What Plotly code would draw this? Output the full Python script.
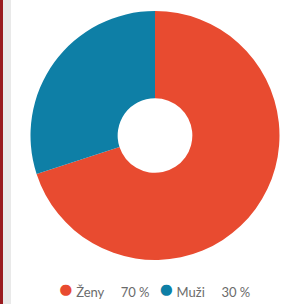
import plotly.graph_objects as go

categories = ["Ženy", "Muži"]
values = [70, 30]
colors = ["#E84B30", "#0E7FA6"]

W, H = 283, 304

fig = go.Figure()
fig.add_trace(go.Pie(
    labels=categories,
    values=values,
    marker=dict(colors=colors, line=dict(width=0)),
    hole=0.3,
    sort=False,
    direction="clockwise",
    rotation=0,
    textinfo="none",
    hoverinfo="none",
    showlegend=False,
    domain=dict(x=[30 / W, 280 / W], y=[1 - 260 / H, 1 - 11 / H]),
))

# legend as text built from the data
parts = []
for c, v, col in zip(categories, values, colors):
    parts.append(
        f'<span style="color:{col};font-size:23px">●</span>'
        f'<span style="color:#6b6b6b"> {c}\u00a0\u00a0\u00a0\u00a0 {v} %</span>'
    )
legend_text = "\u00a0\u00a0\u00a0".join(parts)

fig.add_annotation(
    text=legend_text,
    x=154.5 / W, y=1 - 288 / H,
    xref="paper", yref="paper",
    xanchor="center", yanchor="middle",
    showarrow=False,
    font=dict(family="Lato, 'Open Sans', sans-serif", size=13, color="#6b6b6b"),
)

# left border strips
fig.add_shape(type="rect", xref="paper", yref="paper", x0=0, x1=3 / W, y0=0, y1=1,
              fillcolor="#9A1C20", line=dict(width=0), layer="above")
fig.add_shape(type="rect", xref="paper", yref="paper", x0=3 / W, x1=11 / W, y0=0, y1=1,
              fillcolor="#E9E9E9", line=dict(width=0), layer="above")

fig.update_layout(
    width=W, height=H,
    margin=dict(l=0, r=0, t=0, b=0),
    paper_bgcolor="white",
    plot_bgcolor="white",
    xaxis=dict(visible=False),
    yaxis=dict(visible=False),
)

fig.write_html(
    "out.html",
    config=dict(displayModeBar=False),
    post_script="document.body.style.margin='0px';document.body.style.overflow='hidden';",
)
